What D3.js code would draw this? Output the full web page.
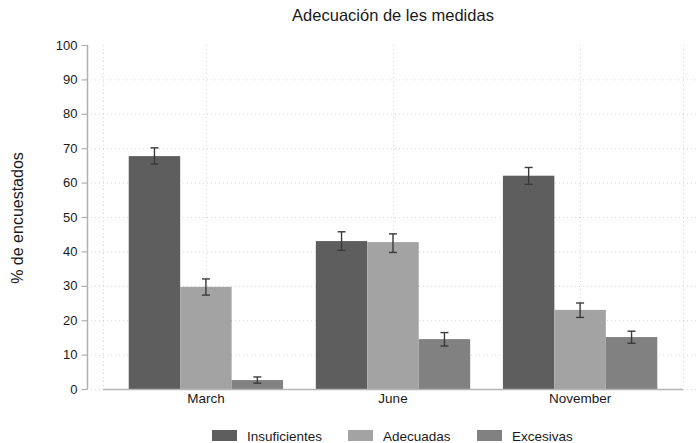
<!DOCTYPE html>
<html><head><meta charset="utf-8">
<script src="https://cdn.jsdelivr.net/npm/d3@7"></script>
<style>body{margin:0;background:#fff}svg{display:block;font-family:"Liberation Sans",Arial,sans-serif}</style>
</head><body>
<svg id="c" width="697" height="443"></svg>
<script>
const categories = ["March", "June", "November"];
const seriesNames = ["Insuficientes", "Adecuadas", "Excesivas"];
const insuficientes = [67.7, 43.0, 62.0];
const adecuadas = [29.7, 42.7, 23.0];
const excesivas = [2.6, 14.5, 15.1];
const insufLo = [65.4, 40.3, 59.5];
const insufHi = [70.1, 45.7, 64.4];
const adecLo = [27.3, 39.7, 20.8];
const adecHi = [32.0, 45.1, 25.0];
const excLo = [1.7, 12.5, 13.3];
const excHi = [3.5, 16.4, 16.8];
const yTicks = [0, 10, 20, 30, 40, 50, 60, 70, 80, 90, 100];
const colors = ["#5e5e5e", "#a3a3a3", "#818181"];

const series = [
  {name: seriesNames[0], vals: insuficientes, lo: insufLo, hi: insufHi},
  {name: seriesNames[1], vals: adecuadas, lo: adecLo, hi: adecHi},
  {name: seriesNames[2], vals: excesivas, lo: excLo, hi: excHi}
];

const svg = d3.select("#c");
const y = d3.scaleLinear().domain([0, 100]).range([389, 45]);
const x = d3.scaleLinear().domain([0.45, 3.55]).range([103, 683]);
const barW = 0.275;

// horizontal grid
svg.append("g").selectAll("line").data(yTicks.filter(d => d < 100)).join("line")
  .attr("x1", 87).attr("x2", 697)
  .attr("y1", d => y(d) + 0.5).attr("y2", d => y(d) + 0.5)
  .attr("stroke", "#d4d4d4").attr("stroke-width", 1).attr("stroke-dasharray", "1,3");
// vertical grid
const vg = [0.45, 1, 2, 3, 3.55];
svg.append("g").selectAll("line").data(vg).join("line")
  .attr("x1", d => Math.round(x(d)) + 0.5).attr("x2", d => Math.round(x(d)) + 0.5)
  .attr("y1", 45).attr("y2", 389)
  .attr("stroke", "#d4d4d4").attr("stroke-width", 1).attr("stroke-dasharray", "1,3");

// bars
series.forEach((s, si) => {
  const g = svg.append("g");
  g.selectAll("rect").data(categories).join("rect")
    .attr("x", (c, i) => x(i + 1 + (si - 1.5) * barW))
    .attr("width", x(1 + barW) - x(1))
    .attr("y", (c, i) => y(s.vals[i]))
    .attr("height", (c, i) => y(0) - y(s.vals[i]))
    .attr("fill", colors[si]);
});

// x axis line
svg.append("line").attr("x1", 103).attr("x2", 683).attr("y1", 389.5).attr("y2", 389.5)
  .attr("stroke", "#b5b5b5").attr("stroke-width", 1.5);

// error bars
series.forEach((s, si) => {
  const g = svg.append("g").attr("stroke", "#3a3a3a").attr("stroke-width", 1.4);
  categories.forEach((c, i) => {
    const cx = x(i + 1 + (si - 1) * barW);
    g.append("line").attr("x1", cx).attr("x2", cx).attr("y1", y(s.lo[i])).attr("y2", y(s.hi[i]));
    g.append("line").attr("x1", cx - 4).attr("x2", cx + 4).attr("y1", y(s.lo[i])).attr("y2", y(s.lo[i]));
    g.append("line").attr("x1", cx - 4).attr("x2", cx + 4).attr("y1", y(s.hi[i])).attr("y2", y(s.hi[i]));
  });
});

// y axis
const yAxis = d3.axisLeft(y).tickValues(yTicks).tickSize(6).tickPadding(4);
const ya = svg.append("g").attr("transform", "translate(87.5,0)").call(yAxis);
ya.select(".domain").attr("stroke", "#b0b0b0").attr("stroke-width", 1.5).attr("d", "M0," + y(100) + "V" + y(0));
ya.selectAll(".tick line").attr("stroke", "#b0b0b0").attr("stroke-width", 1.2);
ya.selectAll(".tick text").attr("font-size", 13).attr("fill", "#1a1a1a")
  .attr("font-family", "Liberation Sans, Arial, sans-serif");

// x labels
svg.append("g").selectAll("text").data(categories).join("text")
  .attr("x", (c, i) => x(i + 1)).attr("y", 403)
  .attr("text-anchor", "middle").attr("font-size", 13.5).attr("fill", "#1a1a1a").text(d => d);

// title
svg.append("text").attr("x", 393).attr("y", 21).attr("text-anchor", "middle")
  .attr("font-size", 16.5).attr("fill", "#1a1a1a").text("Adecuación de les medidas");

// y title
svg.append("text").attr("transform", "translate(23,218) rotate(-90)")
  .attr("text-anchor", "middle").attr("font-size", 16).attr("fill", "#1a1a1a").text("% de encuestados");

// legend
const legX = [212, 348, 477];
const lg = svg.append("g");
series.forEach((s, si) => {
  lg.append("rect").attr("x", legX[si]).attr("y", 430).attr("width", 25).attr("height", 11).attr("fill", colors[si]);
  lg.append("text").attr("x", legX[si] + 35).attr("y", 441).attr("font-size", 13.5).attr("fill", "#1a1a1a").text(s.name);
});
</script>
</body></html>
